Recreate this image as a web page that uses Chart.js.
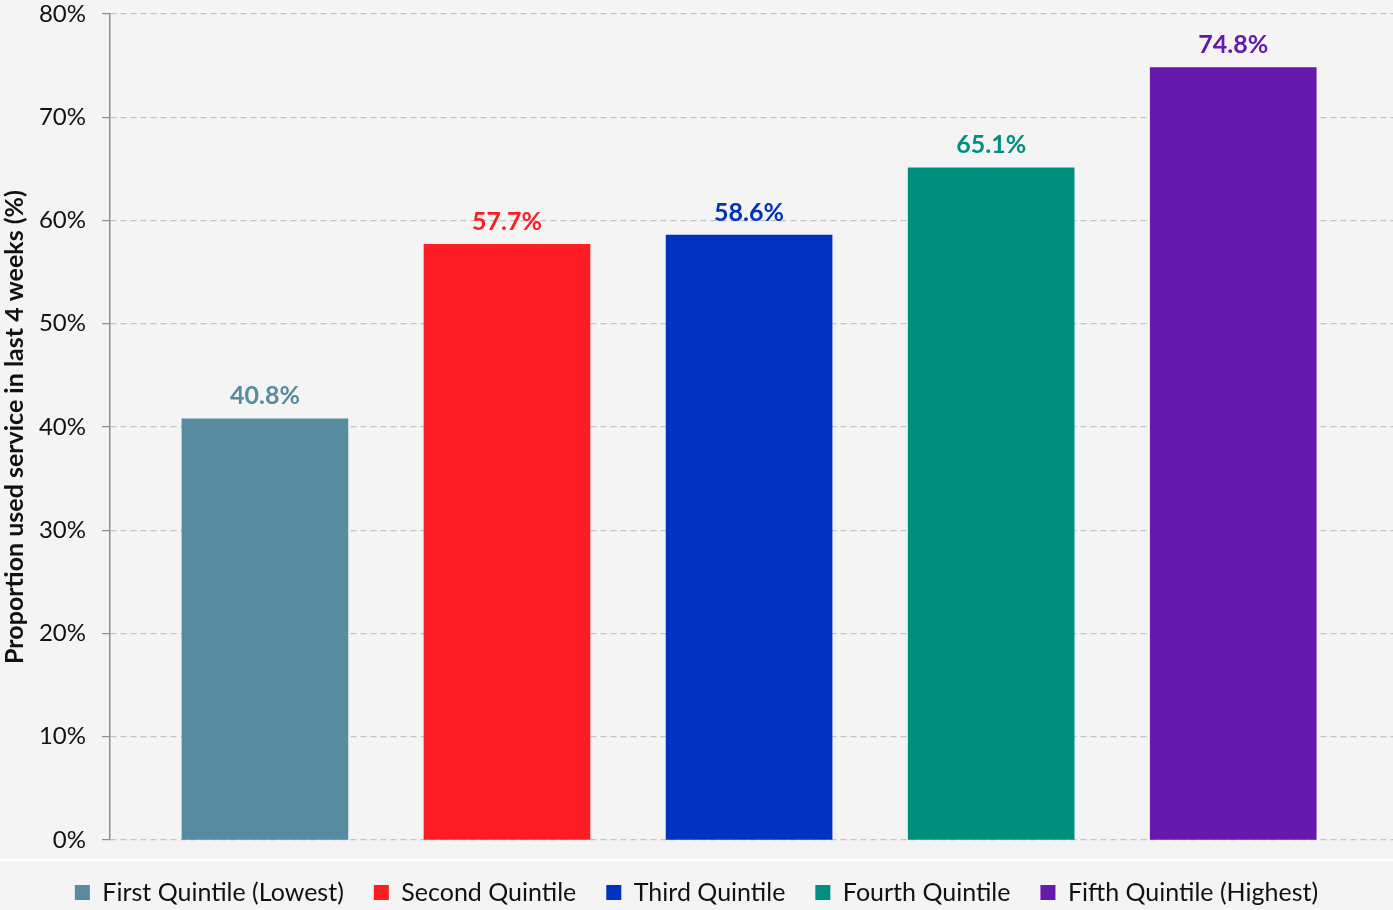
<!DOCTYPE html>
<html>
<head>
<meta charset="utf-8">
<script src="https://cdn.jsdelivr.net/npm/chart.js@4.4.0/dist/chart.umd.min.js"></script>
<style>
  html, body { margin: 0; padding: 0; background: #f4f4f4; }
  #wrap { width: 1393px; height: 910px; }
</style>
</head>
<body>
<div id="wrap"><canvas id="quintileChart" width="1393" height="910"></canvas></div>
<script>
const quintiles = ["First Quintile (Lowest)", "Second Quintile", "Third Quintile", "Fourth Quintile", "Fifth Quintile (Highest)"];
const usedService = [40.8, 57.7, 58.6, 65.1, 74.8];
const barColors = ["#578b9f", "#fe1c25", "#0032bf", "#008f7e", "#6519ad"];
const yTicks = [0, 10, 20, 30, 40, 50, 60, 70, 80];

const FONT = "Lato, 'Open Sans', sans-serif";

// background + white divider under the plot
const backdrop = {
  id: "backdrop",
  beforeDraw(chart) {
    const { ctx, width, height } = chart;
    ctx.save();
    ctx.fillStyle = "#f4f4f4";
    ctx.fillRect(0, 0, width, height);
    ctx.strokeStyle = "#ffffff";
    ctx.lineWidth = 2;
    ctx.beginPath();
    ctx.moveTo(0, 860);
    ctx.lineTo(width, 860);
    ctx.stroke();
    ctx.restore();
  }
};

// value labels above each bar
const barLabels = {
  id: "barLabels",
  afterDatasetsDraw(chart) {
    const { ctx } = chart;
    ctx.save();
    ctx.font = "bold 25px " + FONT;
    ctx.textAlign = "center";
    ctx.textBaseline = "bottom";
    chart.data.datasets.forEach((ds, i) => {
      const meta = chart.getDatasetMeta(i);
      meta.data.forEach(bar => {
        ctx.fillStyle = ds.backgroundColor;
        ctx.fillText(ds.data[0].y.toFixed(1) + "%", bar.x, bar.y - 10);
      });
    });
    ctx.restore();
  }
};

const ctx = document.getElementById("quintileChart").getContext("2d");

new Chart(ctx, {
  type: "bar",
  data: {
    datasets: quintiles.map((q, i) => ({
      label: q,
      data: [{ x: i, y: usedService[i] }],
      backgroundColor: barColors[i],
      borderWidth: 0,
      barThickness: 166,
      grouped: false
    }))
  },
  options: {
    responsive: false,
    animation: false,
    layout: { padding: { top: 14, right: 0, left: 0, bottom: -5 } },
    plugins: {
      legend: {
        position: "bottom",
        labels: {
          font: { size: 25, family: FONT },
          color: "#111",
          boxWidth: 15,
          boxHeight: 15,
          padding: 30,
          generateLabels(chart) {
            return chart.data.datasets.map((ds, i) => ({
              text: ds.label,
              fillStyle: ds.backgroundColor,
              strokeStyle: ds.backgroundColor,
              lineWidth: 0,
              fontColor: "#111",
              datasetIndex: i
            }));
          }
        }
      },
      tooltip: { enabled: false }
    },
    scales: {
      x: {
        type: "linear",
        offset: false,
        min: -0.64,
        max: 4.66,
        ticks: { display: false },
        grid: { display: false },
        border: { display: false },
        afterFit(scale) {
          scale.height = 10;
        }
      },
      y: {
        min: 0,
        max: 80,
        afterBuildTicks(scale) {
          scale.ticks = yTicks.map(v => ({ value: v }));
        },
        afterFit(scale) {
          scale.width = 110;
          scale.paddingTop = 0;
          scale.paddingBottom = 0;
        },
        border: { display: true, color: "#8c8c8c", width: 1.5, dash: [6, 4] },
        grid: {
          color: "#c3c3c3",
          lineWidth: 1.2,
          tickLength: 8,
          tickColor: "#8c8c8c",
          tickBorderDash: []
        },
        ticks: {
          padding: 16,
          color: "#111",
          font: { size: 24, family: FONT },
          callback: v => v + "%"
        },
        title: {
          display: true,
          text: "Proportion used service in last 4 weeks (%)",
          color: "#111",
          font: { size: 25, weight: "bold", family: FONT },
          padding: { top: 0, bottom: 2 }
        }
      }
    }
  },
  plugins: [backdrop, barLabels]
});
</script>
</body>
</html>
